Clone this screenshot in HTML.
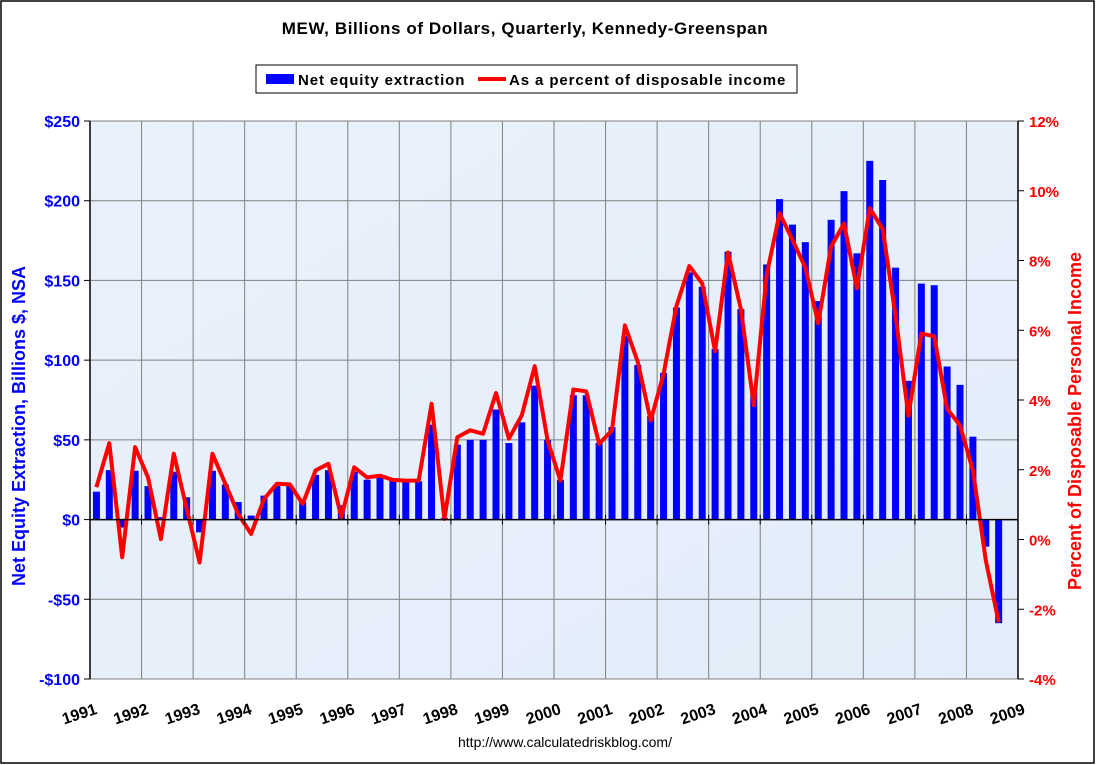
<!DOCTYPE html>
<html><head><meta charset="utf-8"><style>
body{margin:0;background:#fff;}
svg{display:block;font-family:"Liberation Sans",Arial,sans-serif;}
</style></head><body>
<svg id="chart" width="1096" height="765">
<defs>
<linearGradient id="bg" x1="0" y1="0" x2="1" y2="1"><stop offset="0" stop-color="#e9f1fb"/><stop offset="1" stop-color="#e3edf9"/></linearGradient>
</defs>
<rect x="1" y="1" width="1093" height="762" fill="#fff" stroke="#000" stroke-width="1.5"/>
<text x="525" y="34" text-anchor="middle" font-size="17" font-weight="bold" letter-spacing="0.6">MEW, Billions of Dollars, Quarterly, Kennedy-Greenspan</text>
<g>
<rect x="256" y="65" width="541" height="28" fill="#fff" stroke="#000" stroke-width="1"/>
<rect x="266" y="74" width="28" height="10" fill="#0000ff"/>
<text x="298" y="85" font-size="15" font-weight="bold" letter-spacing="0.9">Net equity extraction</text>
<line x1="478" y1="79" x2="506" y2="79" stroke="#ff0000" stroke-width="4"/>
<text x="509" y="85" font-size="15" font-weight="bold" letter-spacing="0.9">As a percent of disposable income</text>
</g>
<rect x="90" y="121" width="928" height="558" fill="url(#bg)"/>
<g id="grid"></g>
<g id="bars"></g>
<g id="line"></g>
<g id="axes"></g>
<text transform="translate(25,426) rotate(-90)" text-anchor="middle" font-size="18" font-weight="bold" fill="#0000ff">Net Equity Extraction, Billions $, NSA</text>
<text transform="translate(1081,421) rotate(-90)" text-anchor="middle" font-size="18" font-weight="bold" fill="#ff0000">Percent of Disposable Personal Income</text>
<text x="565" y="747" text-anchor="middle" font-size="14">http://www.calculatedriskblog.com/</text>
</svg>
<script>
const years = [1991,1992,1993,1994,1995,1996,1997,1998,1999,2000,2001,2002,2003,2004,2005,2006,2007,2008,2009];
const leftTicks = [250,200,150,100,50,0,-50,-100];
const leftTickLabels = ["$250","$200","$150","$100","$50","$0","-$50","-$100"];
const rightTicks = [12,10,8,6,4,2,0,-2,-4];
const rightTickLabels = ["12%","10%","8%","6%","4%","2%","0%","-2%","-4%"];
const mewValues = [17.5,31,-5,30.6,21,1.5,30,14,-8,30.6,22,11,2.5,15,21,21,11,28,31,9,30,25,27,25,24,24,59.5,1,47,50,50,69,48,61,84,50,25,78,78,48,58,115,97,65,92,133,155,146,107,168,132,80,160,201,185,174,137,188,206,167,225,213,158,87,148,147,96,84.5,52,-17,-65];
const pctValues = [1.5,2.76,-0.51,2.65,1.78,0.01,2.46,0.88,-0.66,2.46,1.6,0.73,0.16,1.16,1.6,1.58,1.02,1.98,2.17,0.64,2.07,1.78,1.83,1.71,1.69,1.69,3.89,0.59,2.93,3.13,3.03,4.2,2.89,3.56,4.97,2.84,1.69,4.3,4.25,2.74,3.13,6.14,5.09,3.41,4.75,6.69,7.84,7.34,5.4,8.23,6.6,3.85,7.6,9.35,8.6,7.8,6.2,8.4,9.06,7.2,9.5,8.9,6.4,3.55,5.9,5.83,3.75,3.27,1.98,-0.6,-2.37];

const NS="http://www.w3.org/2000/svg";
const L=90,R=1018,T=121,B=679;
const yL=v=>T+(250-v)/350*(B-T);
const yR=v=>T+(12-v)/16*(B-T);
const qw=(R-L)/((years[years.length-1]-years[0])*4);
const xQ=i=>L+(i+0.5)*qw;
const xY=y=>L+(y-years[0])*4*qw;
function mk(tag,attrs,parent){const e=document.createElementNS(NS,tag);for(const k in attrs)e.setAttribute(k,attrs[k]);parent.appendChild(e);return e;}
const grid=document.getElementById('grid'),axes=document.getElementById('axes');
leftTicks.forEach((v,i)=>{
  const g=mk('line',{x1:L,x2:R,y1:yL(v),y2:yL(v),stroke:'#808080','stroke-width':1},grid);
  
  
  const t=mk('line',{x1:L-6,x2:L,y1:yL(v),y2:yL(v),stroke:'#000'},axes);
  
  
  const tx=mk('text',{x:L-10,y:yL(v)+6,'text-anchor':'end','font-size':16,'font-weight':'bold',fill:'#0000ff'},axes);
  tx.textContent=leftTickLabels[i];
  
  
});
years.forEach((y,i)=>{
  const x=xY(y);
  if(i>0&&i<years.length-1){
    const g=mk('line',{x1:x,x2:x,y1:T,y2:B,stroke:'#808080','stroke-width':1},grid);
    
    
  }
  const t=mk('line',{x1:x,x2:x,y1:yL(0)-5,y2:yL(0)+5,stroke:'#000'},axes);
  
  
  const tx=mk('text',{transform:`translate(${x-9},${B+40}) rotate(-18)`,'text-anchor':'middle','font-size':16,'font-weight':'bold',fill:'#000'},axes);
  tx.textContent=y;
  
  
});
rightTicks.forEach((v,i)=>{
  const t=mk('line',{x1:R,x2:R+6,y1:yR(v),y2:yR(v),stroke:'#000'},axes);
  
  
  const tx=mk('text',{x:R+11,y:yR(v)+6,'font-size':15,'font-weight':'bold',fill:'#ff0000'},axes);
  tx.textContent=rightTickLabels[i];
  
  
});
const bars=document.getElementById('bars');
mewValues.forEach((v,i)=>{
  const y0=yL(0),y1=yL(v);
  const b=mk('rect',{x:xQ(i)-3.5,y:Math.min(y0,y1),width:7,height:Math.abs(y1-y0),fill:'#0000ff'},bars);
  
  
});
const ax0=mk('line',{x1:L,x2:R,y1:yL(0),y2:yL(0),stroke:'#000','stroke-width':1.5},axes);


const al=mk('line',{x1:L,x2:L,y1:T,y2:B,stroke:'#000','stroke-width':1.5},axes);


const ar=mk('line',{x1:R,x2:R,y1:T,y2:B,stroke:'#000','stroke-width':1.5},axes);


const pts=pctValues.map((v,i)=>xQ(i).toFixed(1)+','+yR(v).toFixed(1)).join(' ');
const pl=mk('polyline',{points:pts,fill:'none',stroke:'#ff0000','stroke-width':4,'stroke-linejoin':'round'},document.getElementById('line'));


</script>
</body></html>
